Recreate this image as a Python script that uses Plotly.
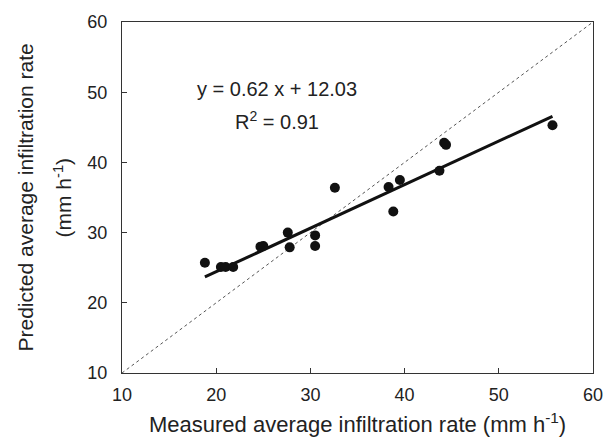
import plotly.graph_objects as go

measured = [18.8, 20.5, 21.0, 21.8, 24.7, 25.0, 27.6, 27.8, 30.5, 30.5, 32.6,
            38.3, 38.8, 39.5, 43.7, 44.2, 44.4, 55.7]
predicted = [25.7, 25.1, 25.1, 25.1, 28.0, 28.1, 30.0, 27.9, 29.6, 28.1, 36.4,
             36.5, 33.0, 37.5, 38.8, 42.8, 42.5, 45.3]

slope = 0.62
intercept = 12.03
fit_x = [min(measured), max(measured)]
fit_y = [slope * v + intercept for v in fit_x]
one_to_one = [10, 60]

x_ticks = [10, 20, 30, 40, 50, 60]
y_ticks = [10, 20, 30, 40, 50, 60]

FONT = "Liberation Sans, Arial, sans-serif"
TXT = "#222222"

fig = go.Figure()
fig.add_trace(go.Scatter(x=one_to_one, y=one_to_one, mode="lines",
                         line=dict(color="#555555", width=1, dash="dot"),
                         showlegend=False, hoverinfo="skip"))
fig.add_trace(go.Scatter(x=fit_x, y=fit_y, mode="lines",
                         line=dict(color="#111111", width=3),
                         showlegend=False))
fig.add_trace(go.Scatter(x=measured, y=predicted, mode="markers",
                         marker=dict(color="#111111", size=10),
                         showlegend=False))

fig.update_xaxes(range=[10, 60], tickvals=x_ticks, ticks="inside", ticklen=5,
                 tickcolor="#333", showline=True, linecolor="#333", linewidth=1,
                 mirror=True, showgrid=False, zeroline=False,
                 ticklabelstandoff=5,
                 tickfont=dict(family=FONT, size=18, color=TXT))
fig.update_yaxes(range=[10, 60], tickvals=y_ticks, ticks="inside", ticklen=5,
                 tickcolor="#333", showline=True, linecolor="#333", linewidth=1,
                 mirror=True, showgrid=False, zeroline=False,
                 ticklabelstandoff=10,
                 tickfont=dict(family=FONT, size=18, color=TXT))

fig.add_annotation(x=26.5, y=50.4, text="y = 0.62 x + 12.03", showarrow=False,
                   font=dict(family=FONT, size=20, color=TXT))
fig.add_annotation(x=26.5, y=46.0, text="R<sup>2</sup> = 0.91", showarrow=False,
                   font=dict(family=FONT, size=20, color=TXT))

fig.add_annotation(xref="paper", yref="paper", x=0.5, y=0, yshift=-34,
                   yanchor="top", showarrow=False,
                   text="Measured average infiltration rate (mm h<sup>-1</sup>)",
                   font=dict(family=FONT, size=22, color=TXT))
fig.add_annotation(xref="paper", yref="paper", x=0, xshift=-97, y=0.5,
                   xanchor="center", textangle=-90, showarrow=False,
                   text="Predicted average infiltration rate",
                   font=dict(family=FONT, size=21, color=TXT))
fig.add_annotation(xref="paper", yref="paper", x=0, xshift=-60, y=0.5,
                   xanchor="center", textangle=-90, showarrow=False,
                   text="(mm h<sup>-1</sup>)",
                   font=dict(family=FONT, size=21, color=TXT))

fig.update_layout(width=615, height=446, plot_bgcolor="white",
                  paper_bgcolor="white",
                  margin=dict(l=122, r=20, t=15, b=73))

fig.write_html("out.html", config={"displayModeBar": False},
               post_script="document.body.style.margin='0';document.body.style.overflow='hidden';")
